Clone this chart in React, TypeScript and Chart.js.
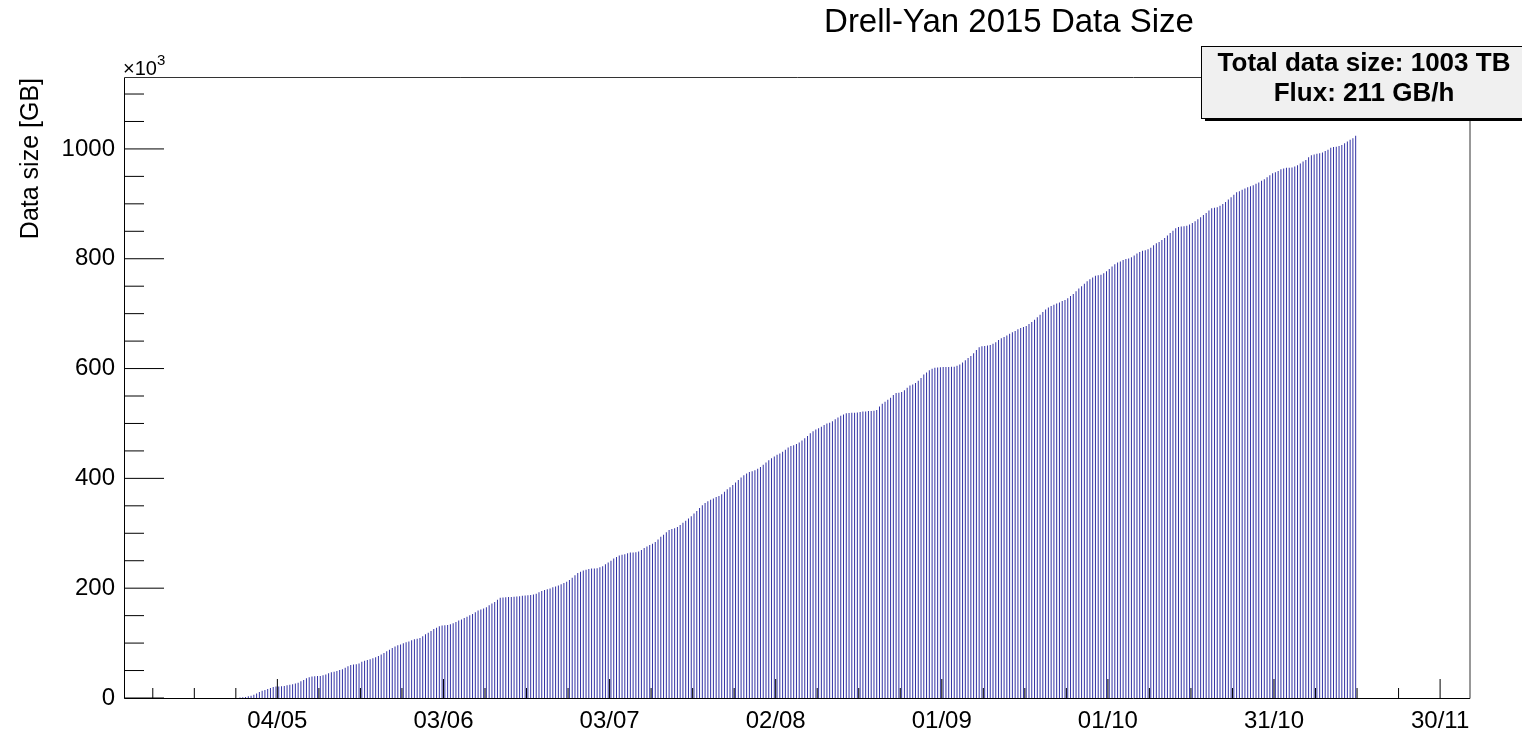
import { useEffect, useRef } from 'react';
import { Chart, registerables } from 'chart.js';

Chart.register(...registerables);

// ---- data (values in units of 10^3 GB, one bin every 12 hours) ----
const firstBinDay = -6.75; // days relative to 04/05 00:00 (centre of first bin)
const binWidthDays = 0.5;
const dataSizeThousandGB = [
  1, 1.5, 2, 3, 4, 6, 8, 11, 13, 14.5,
  16.5, 18, 20, 21, 21, 21.5, 22, 23, 24, 25,
  26.5, 28, 30.5, 33, 36, 38, 39, 39.5, 40, 40,
  41.5, 43, 45, 47, 48, 49, 51, 52.5, 55, 58,
  60, 61, 61.5, 63, 66, 68, 69, 70.5, 72.5, 74,
  76.5, 79, 82, 85, 88, 91, 94, 96, 97.5, 99.5,
  101.5, 103, 105, 107, 108, 109.5, 112.5, 116, 119, 122,
  125.5, 128, 130.5, 132, 132.5, 133, 134.5, 136, 138.5, 141,
  143, 145.5, 148, 150.5, 153, 156, 159.5, 161, 163, 165.5,
  169, 172, 175, 179, 182.5, 183, 183.5, 184, 184, 184.5,
  185, 185.5, 186, 186.5, 187, 187.5, 188.5, 190, 192.5, 195,
  196.5, 198, 199.5, 201.5, 203, 205, 207, 209.5, 211.5, 215,
  219, 223.5, 227.5, 230, 232, 233.5, 235, 236, 236, 236.5,
  238, 240, 243.5, 247, 250, 254, 257, 259.5, 261, 262,
  263.5, 265, 265, 265.5, 267, 269.5, 273, 276, 278.5, 281,
  284, 288.5, 293.5, 297.5, 302, 306, 308, 309, 311.5, 315,
  319, 323, 327, 331, 336, 340.5, 346, 351, 355, 358.5,
  361, 363.5, 366, 368, 371, 375.5, 380, 384, 388, 392.5,
  397, 401.5, 405.5, 409, 411.5, 413, 415, 417.5, 420.5, 425,
  429, 433, 436.5, 440, 443, 445.5, 448.5, 452, 456, 459,
  460.5, 462.5, 465.5, 469, 473, 477, 482, 486, 489, 491.5,
  494, 497, 500, 501.5, 504, 507.5, 511, 514, 516.5, 518.5,
  519, 519.5, 519.5, 520, 521, 522, 522, 522.5, 522.5, 523,
  524.5, 531, 536, 539.5, 543, 547, 552, 555.5, 556, 557.5,
  560.5, 565, 569, 571, 573.5, 578, 583, 589, 593, 597,
  599.5, 601.5, 602, 602.5, 603, 603, 603, 603.5, 603.5, 605,
  607.5, 611, 615, 619, 623, 628, 634, 639, 640.5, 641,
  642, 643, 645, 648, 652, 655, 657.5, 660, 663.5, 666,
  668.5, 671.5, 674, 675.5, 677.5, 681, 685, 689, 693.5, 698,
  703, 707.5, 711, 714, 716, 718.5, 720.5, 723, 725, 728,
  732, 736, 741, 746, 750, 754.5, 759, 762.5, 766, 769,
  770, 771, 773.5, 777, 781.5, 786, 790, 793, 795, 797.5,
  799.5, 800.5, 802.5, 806, 809.5, 812.5, 814.5, 815.5, 817.5, 820,
  824.5, 828, 830.5, 834, 838, 842.5, 847, 851, 855.5, 858,
  858.5, 859, 860, 862.5, 865, 868.5, 872, 875.5, 879.5, 883.5,
  888, 892, 893, 894, 896.5, 899.5, 903.5, 908, 912, 916.5,
  921, 923, 925.5, 928, 930, 932, 934, 936.5, 939, 942,
  945, 948.5, 952, 955.5, 957.5, 960, 963, 964.5, 965.5, 965.5,
  966, 968, 970.5, 973.5, 977, 980, 985, 988.5, 990, 991,
  992, 993.5, 996, 998.5, 1002, 1003.5, 1004, 1005.5, 1007, 1010.5,
  1013.5, 1016.5, 1019.5, 1024,
];

const xTickDays = [0, 30, 60, 90, 120, 150, 180, 210];
const xTickLabels = ['04/05', '03/06', '03/07', '02/08', '01/09', '01/10', '31/10', '30/11'];
const yTickValues = [0, 200, 400, 600, 800, 1000];

const xMinDay = -27.7;
const xMaxDay = 215.4;
const yMax = 1131;

const titleText = 'Drell-Yan 2015 Data Size';
const yTitleText = 'Data size [GB]';
const statsLines = ['Total data size: 1003 TB', 'Flux: 211 GB/h'];

const FONT = "'Liberation Sans', Arial, Helvetica, sans-serif";

const rootStylePlugin = {
  id: 'rootStyle',
  afterDatasetsDraw(chart: any) {
    const { ctx, chartArea: ca, scales } = chart;
    const xs = scales.x;
    const ys = scales.y;
    ctx.save();
    ctx.strokeStyle = '#000';
    ctx.lineWidth = 1;
    ctx.beginPath();
    // y ticks (major 200, minor 50)
    for (let v = 0; v <= yMax; v += 50) {
      const p = ys.getPixelForValue(v);
      const len = v % 200 === 0 ? 40 : 20;
      ctx.moveTo(ca.left, p);
      ctx.lineTo(ca.left + len, p);
    }
    // x ticks (major 30 days, minor 7.5 days)
    const start = Math.ceil(xMinDay / 7.5) * 7.5;
    for (let d = start; d <= xMaxDay; d += 7.5) {
      const p = xs.getPixelForValue(d);
      const major = Math.abs(d / 30 - Math.round(d / 30)) < 1e-6;
      const len = major ? 19 : 10;
      ctx.moveTo(p, ca.bottom);
      ctx.lineTo(p, ca.bottom - len);
    }
    ctx.stroke();
    // axes
    const l = Math.round(ca.left) + 0.5;
    const r = Math.round(ca.right);
    const t = Math.round(ca.top) + 0.5;
    const b = Math.round(ca.bottom) + 0.5;
    ctx.beginPath();
    ctx.moveTo(l, t);
    ctx.lineTo(l, b);
    ctx.lineTo(r, b);
    ctx.stroke();
    // frame (top / right)
    ctx.strokeStyle = '#333';
    ctx.beginPath();
    ctx.moveTo(l, t);
    ctx.lineTo(r, t);
    ctx.lineTo(r, b);
    ctx.stroke();
    ctx.restore();
  },
  afterDraw(chart: any) {
    const { ctx, chartArea: ca } = chart;
    ctx.save();
    ctx.fillStyle = '#000';
    // title
    ctx.font = `33px ${FONT}`;
    ctx.textAlign = 'center';
    ctx.textBaseline = 'middle';
    ctx.fillText(titleText, 1009, 23);
    // x10^3
    ctx.textAlign = 'left';
    ctx.textBaseline = 'alphabetic';
    ctx.font = `20px ${FONT}`;
    ctx.fillText('\u00d710', ca.left - 1, 75);
    const w = ctx.measureText('\u00d710').width;
    ctx.font = `15px ${FONT}`;
    ctx.fillText('3', ca.left - 1 + w, 65);
    // y title
    ctx.save();
    ctx.translate(31, ca.top + 1);
    ctx.rotate(-Math.PI / 2);
    ctx.font = `25px ${FONT}`;
    ctx.textAlign = 'right';
    ctx.textBaseline = 'middle';
    ctx.fillText(yTitleText, 0, 0);
    ctx.restore();
    // stats box
    const bx = 1201, by = 46, bw = 326, bh = 72;
    ctx.fillStyle = '#000';
    ctx.fillRect(bx + 4, by + bh, bw, 3);
    ctx.fillStyle = '#f0f0f0';
    ctx.fillRect(bx, by, bw, bh);
    ctx.strokeStyle = '#000';
    ctx.lineWidth = 1;
    ctx.strokeRect(bx + 0.5, by + 0.5, bw, bh);
    ctx.fillStyle = '#000';
    ctx.font = `bold 26px ${FONT}`;
    ctx.textAlign = 'center';
    ctx.textBaseline = 'middle';
    ctx.fillText(statsLines[0], 1364, 64);
    ctx.fillText(statsLines[1], 1364, 94);
    ctx.restore();
  },
};

export default function App() {
  const canvasRef = useRef<HTMLCanvasElement | null>(null);

  useEffect(() => {
    const canvas = canvasRef.current;
    if (!canvas) return;
    const points = dataSizeThousandGB.map((v, i) => ({ x: firstBinDay + i * binWidthDays, y: v }));
    const chart = new Chart(canvas, {
      type: 'bar',
      data: {
        datasets: [
          {
            data: points as any,
            backgroundColor: 'rgb(50,50,165)',
            borderWidth: 0,
            barThickness: 1,
            inflateAmount: 0,
          } as any,
        ],
      },
      options: {
        animation: false,
        responsive: false,
        devicePixelRatio: 1,
        layout: { padding: { left: 0, right: 52, top: 77, bottom: 0 } },
        plugins: {
          legend: { display: false },
          tooltip: { enabled: false },
          title: { display: false },
        },
        scales: {
          x: {
            type: 'linear',
            min: xMinDay,
            max: xMaxDay,
            offset: false,
            grid: { display: false, drawTicks: false },
            border: { display: false },
            afterBuildTicks: (s: any) => {
              s.ticks = xTickDays.map((v) => ({ value: v }));
            },
            afterFit: (s: any) => {
              s.height = 34;
            },
            ticks: {
              autoSkip: false,
              maxRotation: 0,
              padding: 9,
              color: '#000',
              font: { family: FONT, size: 24 },
              callback: (v: any) => xTickLabels[xTickDays.indexOf(Number(v))] ?? '',
            },
          },
          y: {
            type: 'linear',
            min: 0,
            max: yMax,
            grid: { display: false, drawTicks: false },
            border: { display: false },
            afterBuildTicks: (s: any) => {
              s.ticks = yTickValues.map((v) => ({ value: v }));
            },
            afterFit: (s: any) => {
              s.width = 124;
            },
            ticks: {
              padding: 9,
              color: '#000',
              font: { family: FONT, size: 24 },
              callback: (v: any) => String(v),
            },
          },
        },
      },
      plugins: [rootStylePlugin],
    });
    return () => chart.destroy();
  }, []);

  return (
    <div style={{ position: 'absolute', left: 0, top: 0, width: 1522, height: 732, background: '#fff' }}>
      <canvas ref={canvasRef} width={1522} height={732} style={{ display: 'block', width: 1522, height: 732 }} />
    </div>
  );
}
